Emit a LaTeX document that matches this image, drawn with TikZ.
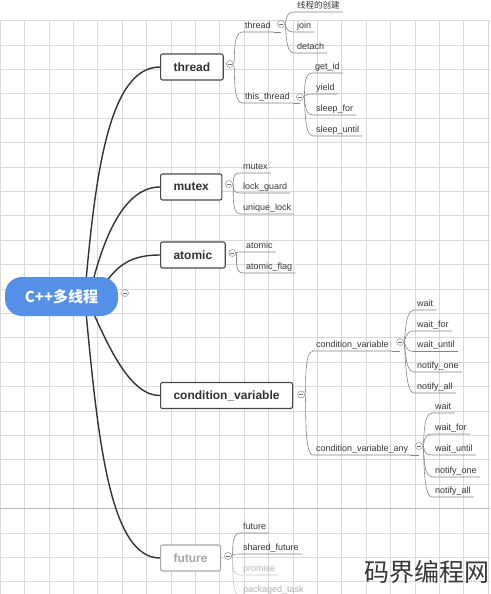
\documentclass[tikz,border=0pt]{standalone}
\usepackage{fontspec}
\setmainfont{Liberation Sans}
\newfontfamily\cjk{Noto Sans CJK SC}
\usetikzlibrary{calc}
\definecolor{rootblue}{HTML}{5590E8}
\definecolor{gridc}{HTML}{D9D9D9}
\pgfdeclarelayer{gridlayer}
\pgfdeclarelayer{edges}
\pgfsetlayers{gridlayer,edges,main}
\tikzset{
 gridline/.style={draw=gridc, line width=0.6pt},
 mainedge/.style={draw=black!80, line width=1.4pt},
 sub/.style={draw=black!48, line width=0.6pt},
 fadesub/.style={draw=black!22, line width=0.6pt},
 box/.style={draw=black!72, line width=1.1pt, fill=white, rounded corners=2pt, font=\bfseries\fontsize{12}{14}\selectfont, text=black!80, minimum height=26pt, inner xsep=13pt, anchor=west},
 fadebox/.style={box, draw=black!35, text=black!35},
 rootbox/.style={fill=rootblue, rounded corners=17pt, minimum width=113pt, minimum height=39pt, text=white, font=\cjk\bfseries\fontsize{15}{17}\selectfont},
 tog/.style={circle, draw=black!45, fill=white, line width=0.5pt, inner sep=0pt, minimum size=7pt, path picture={\draw[black!55, line width=0.5pt] ([xshift=-2pt]path picture bounding box.center) -- ([xshift=2pt]path picture bounding box.center);}},
 lab/.style={anchor=south west, inner xsep=3pt, inner ysep=1.5pt, text height=6.8pt, text depth=2pt, font=\fontsize{9}{10}\selectfont, text=black!78},
 fadelab/.style={lab, text=black!30},
}
\newcommand\conn[3][sub]{\draw[#1] (#2.east) .. controls +(2,0) and +(-10,0) .. (#3.south west) -- (#3.south east);}
\newcommand\ext[2]{\draw[sub] (#1.south east) -- (#2 |- #1.south east);}
\begin{document}
\begin{tikzpicture}[x=1pt,y=-1pt]
\useasboundingbox (0,0) rectangle (490,594);
\clip (0,0) rectangle (490,594);
\begin{pgfonlayer}{gridlayer}
\fill[white] (0,0) rectangle (490,594);
\foreach \i in {0,...,20} \draw[gridline] (24.4*\i,20.5) -- (24.4*\i,594);
\foreach \j in {0,...,23} \draw[gridline] (0,20.5+24.4*\j) -- (490,20.5+24.4*\j);
\draw[gridline, draw=black!28] (0,508.5) -- (490,508.5);
\end{pgfonlayer}

% root and main boxes
\node[rootbox] (root) at (61.5,296.5) {C++多线程};
\node[tog] (tg0) at (125,293) {};
\node[box] (thread) at (160,67) {thread};
\node[box] (mutex) at (160,187) {mutex};
\node[box] (atomic) at (160,255) {atomic};
\node[box] (cv) at (160,395.5) {condition\_variable};
\node[fadebox] (future) at (160,558) {future};
\node[tog] (tgA) at ($(thread.east)+(6,-3)$) {};
\node[tog] (tgB) at ($(mutex.east)+(6.5,-3)$) {};
\node[tog] (tgC) at ($(atomic.east)+(6.5,-2)$) {};
\node[tog] (tgD) at ($(cv.east)+(8,-1)$) {};
\node[tog] (tgE) at ($(future.east)+(7,-2)$) {};

% thread branch
\node[lab] (tthread) at (242,32) {thread};
\node[lab] (tthis) at (242,103) {this\_thread};
\node[tog] (tgT1) at (281,24) {};
\node[tog] (tgT2) at (300,97) {};
\node[lab, font=\cjk\fontsize{8.5}{10}\selectfont] (create) at (294,12) {线程的创建};
\node[lab] (join) at (294,32) {join};
\node[lab] (detach) at (294,53) {detach};
\node[lab] (getid) at (312,73) {get\_id};
\node[lab] (yield) at (313,94) {yield};
\node[lab] (sleepfor) at (313,115) {sleep\_for};
\node[lab] (sleepuntil) at (313,136) {sleep\_until};

% mutex branch
\node[lab] (mmutex) at (240,173) {mutex};
\node[lab] (lockguard) at (240,193) {lock\_guard};
\node[lab] (uniquelock) at (240,214) {unique\_lock};

% atomic branch
\node[lab] (aatomic) at (243,252) {atomic};
\node[lab] (aflag) at (243,273) {atomic\_flag};

% condition variable branch
\node[lab] (cvsub) at (313,351) {condition\_variable};
\node[lab] (cvany) at (313,455) {condition\_variable\_any};
\node[tog] (tgC1) at (400,342) {};
\node[tog] (tgC2) at (419,446) {};
\node[lab] (w1) at (414,310) {wait};
\node[lab] (wf1) at (414,331) {wait\_for};
\node[lab] (wu1) at (414,351.5) {wait\_until};
\node[lab] (no1) at (414,372) {notify\_one};
\node[lab] (na1) at (414,393) {notify\_all};
\node[lab] (w2) at (432,413) {wait};
\node[lab] (wf2) at (432,434) {wait\_for};
\node[lab] (wu2) at (432,455) {wait\_until};
\node[lab] (no2) at (432,477) {notify\_one};
\node[lab] (na2) at (432,497) {notify\_all};

% future branch
\node[lab] (ffuture) at (240,533) {future};
\node[lab] (fshared) at (240,554) {shared\_future};
\node[fadelab] (fpromise) at (240,575) {promise};
\node[fadelab] (fpack) at (240,596) {packaged\_task};

% watermark
\node[font=\cjk\fontsize{25}{25}\selectfont, text=black!78, inner sep=0pt] (wm) at (426.5,572) {码界编程网};

\begin{pgfonlayer}{edges}
\draw[mainedge] ($(root.north)+(24.5,4)$) .. controls (96,170) and (110,67) .. (thread.west);
\draw[mainedge] ($(root.north)+(31.5,4)$) .. controls (105,235) and (125,187) .. (mutex.west);
\draw[mainedge] ($(root.north)+(44,6)$) .. controls (120,262) and (135,255) .. (atomic.west);
\draw[mainedge] ($(root.south)+(31.5,-4)$) .. controls (108,345) and (130,396) .. (cv.west);
\draw[mainedge] ($(root.south)+(24.5,-4)$) .. controls (98,440) and (110,558) .. (future.west);

\conn{tgA}{tthread} \ext{tthread}{tgT1}
\conn{tgA}{tthis} \ext{tthis}{tgT2}
\conn{tgT1}{create} \conn{tgT1}{join} \conn{tgT1}{detach}
\conn{tgT2}{getid} \conn{tgT2}{yield} \conn{tgT2}{sleepfor} \conn{tgT2}{sleepuntil}

\conn{tgB}{mmutex} \conn{tgB}{lockguard} \conn{tgB}{uniquelock}
\conn{tgC}{aatomic} \conn{tgC}{aflag}

\conn{tgD}{cvsub} \ext{cvsub}{tgC1}
\conn{tgD}{cvany} \ext{cvany}{tgC2}
\conn{tgC1}{w1} \conn{tgC1}{wf1} \conn{tgC1}{wu1} \conn{tgC1}{no1} \conn{tgC1}{na1}
\conn{tgC2}{w2} \conn{tgC2}{wf2} \conn{tgC2}{wu2} \conn{tgC2}{no2} \conn{tgC2}{na2}

\conn{tgE}{ffuture} \conn{tgE}{fshared}
\conn[fadesub]{tgE}{fpromise} \conn[fadesub]{tgE}{fpack}
\end{pgfonlayer}
\end{tikzpicture}
\end{document}
